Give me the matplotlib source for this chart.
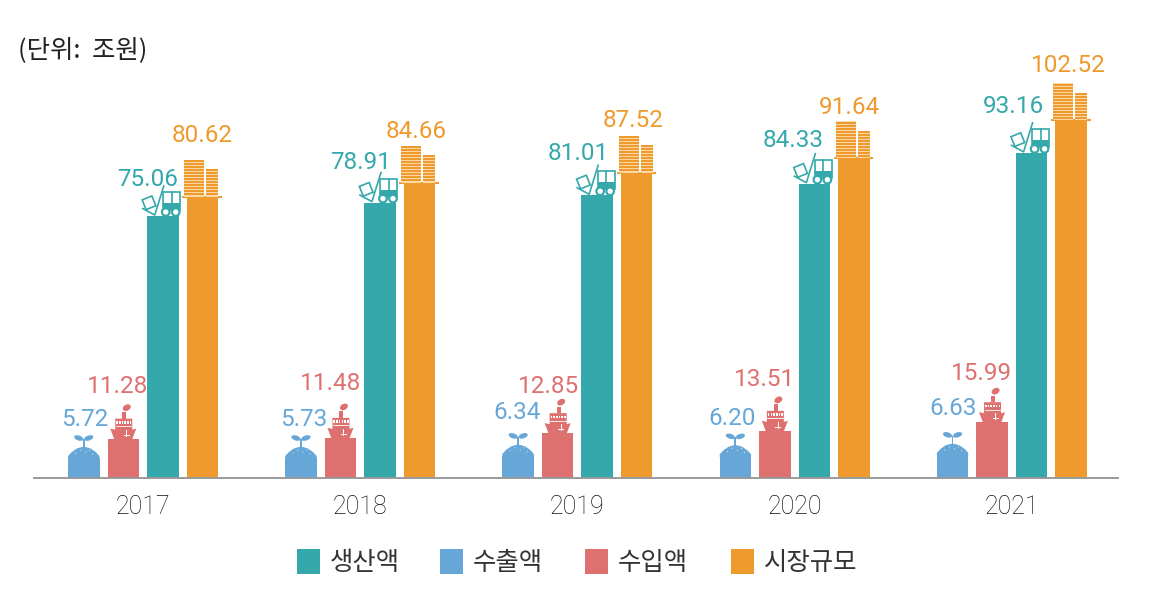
import matplotlib
matplotlib.use("Agg")
import matplotlib.pyplot as plt
from matplotlib.patches import Polygon, Rectangle, Ellipse, Circle
from matplotlib.transforms import Affine2D, ScaledTranslation

years = ["2017", "2018", "2019", "2020", "2021"]
export = [5.72, 5.73, 6.34, 6.20, 6.63]
imports = [11.28, 11.48, 12.85, 13.51, 15.99]
production = [75.06, 78.91, 81.01, 84.33, 93.16]
market = [80.62, 84.66, 87.52, 91.64, 102.52]
legend_names = ["생산액", "수출액", "수입액", "시장규모"]

# label offsets from the bar top, in pixels
export_dx = [1, 3, -1, -3, 1]
export_dy = [39, 39, 43, 37.5, 46]
imports_dx = [-6, -10, -9.5, -10.5, -11]
imports_dy = [52.5, 54, 47, 51, 49]
production_dx = [-15.5, -19.5, -19, -21, -18]
production_dy = [37, 40.5, 41.5, 43.5, 46]
market_dx = [0, -3.5, -4, -4, -3]
market_dy = [61, 51.5, 52.5, 51, 55]

TEAL = "#34a8aa"
BLUE = "#66a7d8"
RED = "#de7070"
ORANGE = "#ef9a2d"
CJK = ["Noto Sans CJK KR", "DejaVu Sans"]

W, H = 1152, 599
PX_PER_UNIT = 3.49
GROUP_PX = 217.2

fig = plt.figure(figsize=(W / 100, H / 100), dpi=100)
ax = fig.add_axes([34 / W, (H - 478) / H, (1118 - 34) / W, 478 / H])
ax.set_xlim((34 - 143) / GROUP_PX, (1118 - 143) / GROUP_PX)
ax.set_ylim(0, 478 / PX_PER_UNIT)
for s in ["top", "left", "right"]:
    ax.spines[s].set_visible(False)
ax.spines["bottom"].set_color("#9a9a9a")
ax.spines["bottom"].set_linewidth(1.4)
ax.set_yticks([])
ax.set_xticks(range(len(years)))
ax.set_xticklabels(years, fontsize=18, family="Roboto", fontweight="light", color="#111111")
ax.tick_params(axis="x", length=0, pad=12)

step = 39.5 / GROUP_PX
width = 31.5 / GROUP_PX
xs = list(range(len(years)))
ax.bar([x - 1.5 * step for x in xs], export, width, color=BLUE)
ax.bar([x - 0.5 * step for x in xs], imports, width, color=RED)
ax.bar([x + 0.5 * step for x in xs], production, width, color=TEAL)
ax.bar([x + 1.5 * step for x in xs], market, width, color=ORANGE)


# icons are drawn in pixels around the top centre of a bar
def anchor(x, y):
    return Affine2D() + ScaledTranslation(x, y, ax.transData)


def add(p, tr):
    p.set_transform(tr)
    p.set_clip_on(False)
    ax.add_patch(p)


def bag(x, y):
    tr = anchor(x, y)
    add(Polygon([(-15.7, -0.5), (-15.7, 2), (-12, 6), (-7, 9.5), (-2, 11), (2, 11), (7, 9.5), (12, 6),
                 (15.7, 2), (15.7, -0.5)], closed=True, fc=BLUE, ec="none"), tr)
    add(Rectangle((-0.9, 10), 1.8, 9, fc=BLUE, ec="none"), tr)
    add(Ellipse((-5, 20), 9.5, 5, angle=-18, fc=BLUE, ec="none"), tr)
    add(Ellipse((5, 20), 9.5, 5, angle=18, fc=BLUE, ec="none"), tr)
    for dx, dy in [(-8, 5), (-3, 8), (2, 6), (6, 8), (9, 4)]:
        add(Circle((dx, dy), 0.5, fc="white", ec="none"), tr)


def ship(x, y):
    tr = anchor(x, y)
    add(Polygon([(-9, -0.5), (-13, 10), (-8, 9), (-8, 20), (9, 20), (9, 9), (13, 10), (9, -0.5)],
                closed=True, fc=RED, ec="none"), tr)
    for k in range(6):
        add(Rectangle((-7 + k * 2.7, 15), 1.6, 2.5, fc="white", ec="none"), tr)
    ax.plot([-7.5, 8], [12.5, 12.5], color="white", lw=0.6, transform=tr, clip_on=False)
    add(Rectangle((-1, 20), 4, 6.5, fc=RED, ec="none"), tr)
    add(Ellipse((3.5, 31), 8.5, 6, angle=30, fc=RED, ec="none"), tr)
    ax.plot([3, 3], [3, 9], color="white", lw=0.7, transform=tr, clip_on=False)
    ax.plot([0.5, 5.5], [4, 4], color="white", lw=0.7, transform=tr, clip_on=False)


def truck(x, y):
    tr = anchor(x, y)
    lw = 1.2
    add(Rectangle((0.5, 6), 17, 18, fc="white", ec=TEAL, lw=lw), tr)
    add(Rectangle((0.5, 6), 17, 7, fc=TEAL, ec="none"), tr)
    ax.plot([9, 9], [13, 24], color=TEAL, lw=lw, transform=tr, clip_on=False)
    add(Circle((3, 4), 3.8, fc="white", ec=TEAL, lw=lw * 1.3), tr)
    add(Circle((13, 4), 3.8, fc="white", ec=TEAL, lw=lw * 1.3), tr)
    ax.plot([1, -8, -20], [30, 1, 7.5], color=TEAL, lw=1.2, transform=tr, clip_on=False)
    add(Rectangle((-19, 8), 10.5, 10.5, angle=22, rotation_point="center", fc="white", ec=TEAL, lw=lw), tr)


def buildings(x, y):
    tr = anchor(x, y)
    add(Rectangle((-20, -1), 39.5, 2, fc=ORANGE, ec="none"), tr)
    for left, right, top in [(-18, 2, 37), (4, 16, 27)]:
        add(Rectangle((left, 0), right - left, top, fc="#f9d7a6", ec="none"), tr)
        h = 1.5
        while h < top:
            add(Rectangle((left, h), right - left, 1.9, fc=ORANGE, ec="none"), tr)
            h += 3


for i in xs:
    bag(i - 1.5 * step, export[i])
    ship(i - 0.5 * step, imports[i])
    truck(i + 0.5 * step, production[i])
    buildings(i + 1.5 * step, market[i])


def label(x, y, dx, dy, v, c):
    ax.annotate(f"{v:.2f}", (x, y), xytext=(dx * 0.72, dy * 0.72), textcoords="offset points",
                ha="center", va="center", fontsize=17.5, family="Roboto", color=c,
                annotation_clip=False)


for i in xs:
    label(i - 1.5 * step, export[i], export_dx[i], export_dy[i], export[i], BLUE)
    label(i - 0.5 * step, imports[i], imports_dx[i], imports_dy[i], imports[i], RED)
    label(i + 0.5 * step, production[i], production_dx[i], production_dy[i], production[i], TEAL)
    label(i + 1.5 * step, market[i], market_dx[i], market_dy[i], market[i], ORANGE)

fig.text(18 / W, 1 - 50 / H, "(단위:  조원)", fontsize=18.3, family=CJK, color="#222222", va="center")

legend_x = [297, 440, 585, 731]
for name, c, bx in zip(legend_names, [TEAL, BLUE, RED, ORANGE], legend_x):
    fig.patches.append(Rectangle((bx / W, 1 - 574 / H), 23 / W, 25 / H, transform=fig.transFigure, fc=c, ec="none"))
    fig.text((bx + 33) / W, 1 - 563.5 / H, name, fontsize=18.3, family=CJK, color="#333333", va="center")

fig.savefig("out.png", dpi=100)
